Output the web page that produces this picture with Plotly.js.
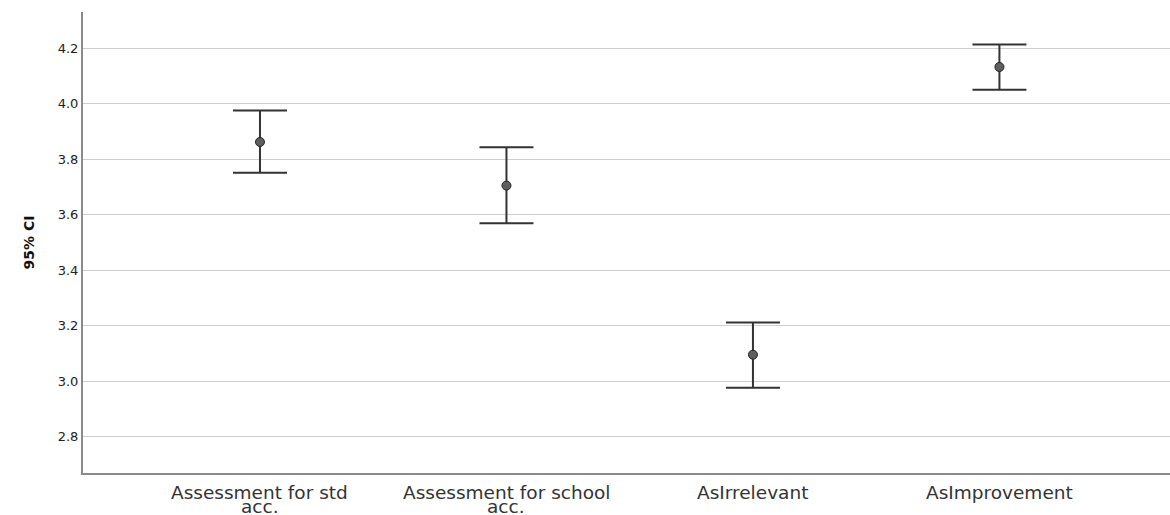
<!DOCTYPE html>
<html>
<head>
<meta charset="utf-8">
<script src="https://cdn.plot.ly/plotly-3.0.1.min.js"></script>
<style>html,body{margin:0;padding:0;background:#fff;}#chart{width:1170px;height:515px;}</style>
</head>
<body>
<div id="chart"></div>
<script>
// Data
const categories = ["Assessment for std acc.", "Assessment for school acc.", "AsIrrelevant", "AsImprovement"];
const tickLabelLines = [["Assessment for std", "acc."], ["Assessment for school", "acc."], ["AsIrrelevant"], ["AsImprovement"]];
const means = [3.862, 3.705, 3.096, 4.132];
const lowerCI = [3.751, 3.569, 2.977, 4.050];
const upperCI = [3.975, 3.843, 3.212, 4.213];
const yTickVals = [2.8, 3.0, 3.2, 3.4, 3.6, 3.8, 4.0, 4.2];

const trace = {
  type: "scatter",
  mode: "markers",
  x: categories,
  y: means,
  marker: {size: 9, color: "#5e5e5e", line: {color: "#222", width: 1}},
  error_y: {
    type: "data",
    symmetric: false,
    array: upperCI.map((u, i) => u - means[i]),
    arrayminus: means.map((m, i) => m - lowerCI[i]),
    color: "#333",
    thickness: 2,
    width: 27
  },
  hoverinfo: "skip",
  showlegend: false
};

const annotations = [];
tickLabelLines.forEach((lines, i) => {
  lines.forEach((ln, j) => {
    annotations.push({
      x: categories[i], xref: "x",
      y: 0, yref: "paper",
      yanchor: "middle", xanchor: "center",
      yshift: -19 - j * 14,
      text: ln, showarrow: false,
      font: {family: "DejaVu Sans", size: 18.5, color: "#333"}
    });
  });
});

const layout = {
  width: 1170, height: 515,
  margin: {l: 83, r: 0, t: 12, b: 42, pad: 0},
  paper_bgcolor: "#fff", plot_bgcolor: "#fff",
  showlegend: false,
  xaxis: {
    type: "category",
    range: [-0.718, 3.692],
    showgrid: false, zeroline: false,
    showline: true, linecolor: "#8a8a8a", linewidth: 2,
    showticklabels: false, ticks: ""
  },
  yaxis: {
    range: [2.67, 4.33],
    tickvals: yTickVals,
    ticktext: yTickVals.map(v => v.toFixed(1)),
    showgrid: true, gridcolor: "#cfcfcf", gridwidth: 1,
    zeroline: false,
    showline: true, linecolor: "#8a8a8a", linewidth: 2,
    ticks: "",
    tickfont: {family: "DejaVu Sans", size: 13, color: "#222"},
    title: {text: "95% CI", font: {family: "DejaVu Sans", size: 14, color: "#111", weight: "bold"}, standoff: 20}
  },
  annotations: annotations
};

Plotly.newPlot("chart", [trace], layout, {staticPlot: true, displayModeBar: false});
</script>
</body>
</html>
